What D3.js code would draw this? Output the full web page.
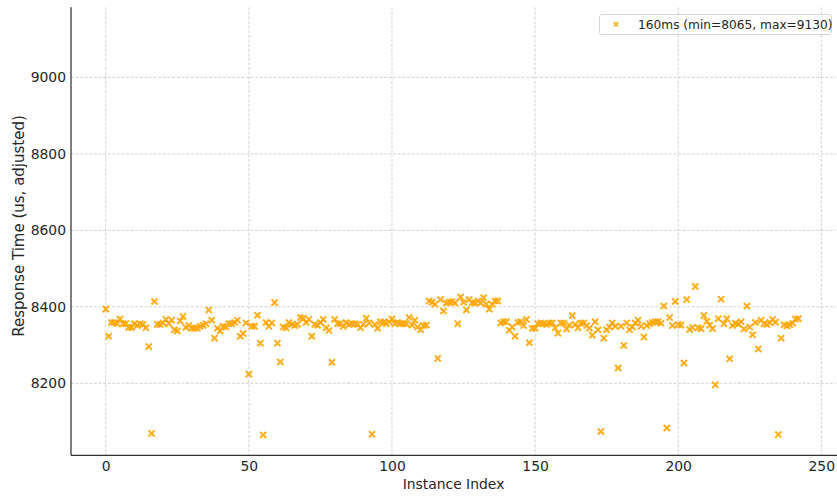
<!DOCTYPE html>
<html>
<head>
<meta charset="utf-8">
<script src="https://cdn.jsdelivr.net/npm/d3@7"></script>
<style>
  html, body { margin: 0; padding: 0; background: #ffffff; }
  svg { display: block; font-family: "DejaVu Sans", sans-serif; }
</style>
</head>
<body>
<svg id="chart" width="837" height="497"></svg>
<script>
// Response times per instance (microseconds, adjusted), series "160ms"
const seriesName = "160ms";
const responseTimes = [
  8394, 8323, 8359, 8359, 8356, 8368, 8356, 8356, 8346, 8346,
  8356, 8351, 8356, 8354, 8345, 8296, 8069, 8414, 8354, 8354,
  8358, 8367, 8356, 8365, 8340, 8337, 8363, 8375, 8346, 8351,
  8344, 8344, 8344, 8349, 8352, 8356, 8392, 8365, 8318, 8344,
  8337, 8349, 8347, 8356, 8356, 8359, 8365, 8323, 8330, 8358,
  8224, 8349, 8349, 8378, 8305, 8065, 8359, 8349, 8358, 8411,
  8305, 8256, 8347, 8345, 8359, 8354, 8351, 8354, 8372, 8370,
  8359, 8367, 8323, 8354, 8352, 8359, 8367, 8345, 8338, 8255,
  8367, 8356, 8356, 8349, 8359, 8354, 8356, 8356, 8354, 8345,
  8354, 8370, 8358, 8067, 8354, 8344, 8361, 8359, 8356, 8361,
  8368, 8356, 8359, 8356, 8356, 8356, 8372, 8352, 8365, 8347,
  8340, 8351, 8352, 8415, 8412, 8407, 8265, 8419, 8389, 8410,
  8412, 8414, 8410, 8356, 8426, 8412, 8392, 8419, 8410, 8410,
  8415, 8410, 8424, 8407, 8394, 8407, 8415, 8415, 8358, 8361,
  8361, 8339, 8347, 8323, 8359, 8361, 8351, 8367, 8306, 8344,
  8344, 8356, 8358, 8356, 8354, 8358, 8358, 8345, 8331, 8358,
  8358, 8342, 8352, 8377, 8354, 8345, 8358, 8358, 8351, 8344,
  8326, 8361, 8340, 8074, 8318, 8340, 8347, 8358, 8349, 8240,
  8349, 8299, 8358, 8340, 8347, 8358, 8365, 8349, 8321, 8351,
  8356, 8359, 8361, 8361, 8357, 8402, 8083, 8372, 8351, 8414,
  8354, 8352, 8253, 8419, 8341, 8346, 8453, 8345, 8343, 8377,
  8362, 8352, 8343, 8196, 8369, 8420, 8356, 8369, 8264, 8351,
  8357, 8355, 8361, 8342, 8402, 8347, 8327, 8359, 8290, 8365,
  8356, 8354, 8359, 8367, 8360, 8066, 8318, 8353, 8350, 8353,
  8357, 8368, 8369, 9130
];
const xTickValues = [0, 50, 100, 150, 200, 250];
const yTickValues = [8200, 8400, 8600, 8800, 9000];
const xLabel = "Instance Index";
const yLabel = "Response Time (us, adjusted)";

const points = responseTimes.map((v, i) => ({ index: i, value: v }));
const minVal = d3.min(responseTimes);
const maxVal = d3.max(responseTimes);

const svg = d3.select("#chart");
const plot = { left: 71, right: 836, top: 7.3, bottom: 455.3 };

// 5% padding around the data extent on both axes
function padded(lo, hi) {
  const m = (hi - lo) * 0.05;
  return [lo - m, hi + m];
}
const x = d3.scaleLinear()
  .domain(padded(0, responseTimes.length - 1))
  .range([plot.left, plot.right]);
const y = d3.scaleLinear()
  .domain(padded(minVal, maxVal))
  .range([plot.bottom, plot.top]);

// dashed grid
const grid = svg.append("g").attr("class", "grid");
grid.selectAll("line.gx").data(xTickValues).join("line")
  .attr("x1", d => x(d)).attr("x2", d => x(d))
  .attr("y1", plot.top).attr("y2", plot.bottom)
  .attr("stroke", "#b0b0b0").attr("stroke-opacity", 0.7)
  .attr("stroke-width", 0.8).attr("stroke-dasharray", "3,1.6");
grid.selectAll("line.gy").data(yTickValues).join("line")
  .attr("x1", plot.left).attr("x2", plot.right)
  .attr("y1", d => y(d)).attr("y2", d => y(d))
  .attr("stroke", "#b0b0b0").attr("stroke-opacity", 0.7)
  .attr("stroke-width", 0.8).attr("stroke-dasharray", "3,1.6");

// axes (left and bottom spines only, no tick marks)
const xAxis = svg.append("g")
  .attr("transform", `translate(0,${plot.bottom})`)
  .call(d3.axisBottom(x).tickValues(xTickValues).tickSize(0).tickPadding(6).tickFormat(d3.format("d")));
const yAxis = svg.append("g")
  .attr("transform", `translate(${plot.left},0)`)
  .call(d3.axisLeft(y).tickValues(yTickValues).tickSize(0).tickPadding(5).tickFormat(d3.format("d")));
[xAxis, yAxis].forEach(g => {
  g.select(".domain").attr("stroke", "#333333").attr("stroke-width", 1.25);
  g.selectAll("text").attr("font-family", "DejaVu Sans").attr("font-size", 13.9).attr("fill", "#262626");
});
xAxis.select(".domain").attr("d", `M${plot.left},0H${plot.right + 2}`);
yAxis.select(".domain").attr("d", `M0,${plot.top}V${plot.bottom}`);

// axis titles
svg.append("text")
  .attr("x", (plot.left + plot.right) / 2).attr("y", 489)
  .attr("text-anchor", "middle")
  .attr("font-size", 13.9).attr("fill", "#262626")
  .text(xLabel);
svg.append("text")
  .attr("transform", `translate(24,226) rotate(-90)`)
  .attr("text-anchor", "middle")
  .attr("font-size", 15).attr("fill", "#262626")
  .text(yLabel);

// scatter of x markers
const markerColor = "#ffa500";
const xMark = d3.symbol().type(d3.symbolX).size(26);
svg.append("g").selectAll("path").data(points).join("path")
  .attr("d", xMark)
  .attr("transform", d => `translate(${x(d.index)},${y(d.value)})`)
  .attr("fill", "none")
  .attr("stroke", markerColor)
  .attr("stroke-width", 2)
  .attr("stroke-opacity", 0.9);

// legend, upper right
const legend = svg.append("g");
legend.append("rect")
  .attr("x", 599.5).attr("y", 14.5).attr("width", 232).attr("height", 20)
  .attr("rx", 2.5)
  .attr("fill", "#ffffff").attr("fill-opacity", 0.8)
  .attr("stroke", "#cccccc").attr("stroke-width", 0.8);
legend.append("path")
  .attr("d", d3.symbol().type(d3.symbolX).size(14))
  .attr("transform", "translate(616,24.3)")
  .attr("fill", "none").attr("stroke", markerColor)
  .attr("stroke-width", 1.6).attr("stroke-opacity", 0.9);
legend.append("text")
  .attr("x", 638).attr("y", 28.6)
  .attr("font-size", 12.2).attr("fill", "#262626")
  .text(`${seriesName} (min=${minVal}, max=${maxVal})`);
</script>
</body>
</html>
